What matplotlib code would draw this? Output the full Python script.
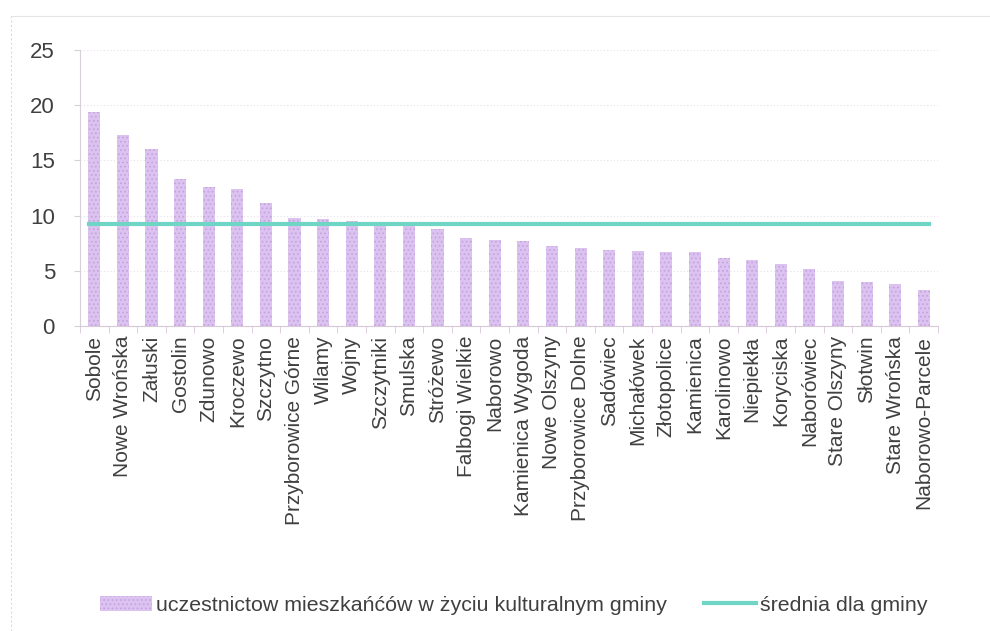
import matplotlib
matplotlib.use("Agg")
import matplotlib.pyplot as plt
import numpy as np
from matplotlib.patches import Patch
from matplotlib.lines import Line2D

categories = ["Sobole", "Nowe Wrońska", "Załuski", "Gostolin", "Zdunowo", "Kroczewo",
              "Szczytno", "Przyborowice Górne", "Wilamy", "Wojny", "Szczytniki", "Smulska",
              "Stróżewo", "Falbogi Wielkie", "Naborowo", "Kamienica Wygoda", "Nowe Olszyny",
              "Przyborowice Dolne", "Sadówiec", "Michałówek", "Złotopolice", "Kamienica",
              "Karolinowo", "Niepiekła", "Koryciska", "Naborówiec", "Stare Olszyny",
              "Słotwin", "Stare Wrońska", "Naborowo-Parcele"]
values = [19.4, 17.3, 16.0, 13.3, 12.6, 12.4, 11.1, 9.8, 9.7, 9.5, 9.4, 9.1,
          8.8, 8.0, 7.8, 7.7, 7.2, 7.1, 6.9, 6.8, 6.7, 6.7, 6.2, 6.0, 5.6, 5.2,
          4.1, 4.0, 3.8, 3.3]
mean_value = 9.2
yticks = [0, 5, 10, 15, 20, 25]
series_label = "uczestnictow mieszkańćów w życiu kulturalnym gminy"
mean_label = "średnia dla gminy"

plt.rcParams['font.family'] = ['Liberation Sans', 'DejaVu Sans']
plt.rcParams['hatch.linewidth'] = 0.7

bar_color = '#dcc2f0'
hatch_color = '#c3a3dc'
line_color = '#6fd6c6'
text_color = '#404040'

fig = plt.figure(figsize=(9.9, 6.31), dpi=100)
ax = fig.add_axes([0.0808, 0.4834, 0.8667, 0.4374])

x = np.arange(len(categories))
ax.bar(x, values, width=0.42, color=bar_color, hatch='....', edgecolor=hatch_color,
       linewidth=0, zorder=2)
ax.plot([x[0] - 0.2, x[-1] + 0.2], [mean_value, mean_value], color=line_color, lw=3, zorder=3)

ax.set_xlim(-0.5, len(categories) - 0.5)
ax.set_ylim(0, 25)
ax.set_yticks(yticks)
ax.set_yticklabels([str(t) for t in yticks], fontsize=16, color=text_color)
ax.yaxis.grid(True, color='#e6e0ea', lw=0.8, linestyle=(0, (1, 2)), zorder=0)
ax.set_axisbelow(True)

ax.set_xticks(x)
ax.set_xticklabels(categories, rotation=90, fontsize=15, color=text_color, va='top', ha='center')
ax.set_xticks(np.arange(-0.5, len(categories)), minor=True)
ax.tick_params(axis='x', which='major', length=0, pad=7)
ax.tick_params(axis='x', which='minor', length=5, color='#d8c8d8', direction='out')
ax.tick_params(axis='y', length=4, color='#d8d0d8', pad=14)

for s in ['top', 'right']:
    ax.spines[s].set_visible(False)
ax.spines['left'].set_color('#d8d0d8')
ax.spines['bottom'].set_color('#d8c8d8')

handles = [Patch(facecolor=bar_color, hatch='....', edgecolor=hatch_color, linewidth=0,
                 label=series_label),
           Line2D([0], [0], color=line_color, lw=3, label=mean_label)]
fig.legend(handles=handles, loc='center', bbox_to_anchor=(0.519, 0.041), ncol=2,
           frameon=False, fontsize=15.4, columnspacing=1.75, handlelength=2.4,
           handletextpad=0.2, labelcolor=text_color)

# faint scanned page border
fig.add_artist(Line2D([0.011, 0.011], [0.0, 0.975], transform=fig.transFigure,
                      color='#cfe0dc', lw=0.8, linestyle=(0, (2, 2))))
fig.add_artist(Line2D([0.011, 1.0], [0.975, 0.975], transform=fig.transFigure,
                      color='#e4e4e4', lw=0.8))

fig.savefig("out.png", dpi=100)
